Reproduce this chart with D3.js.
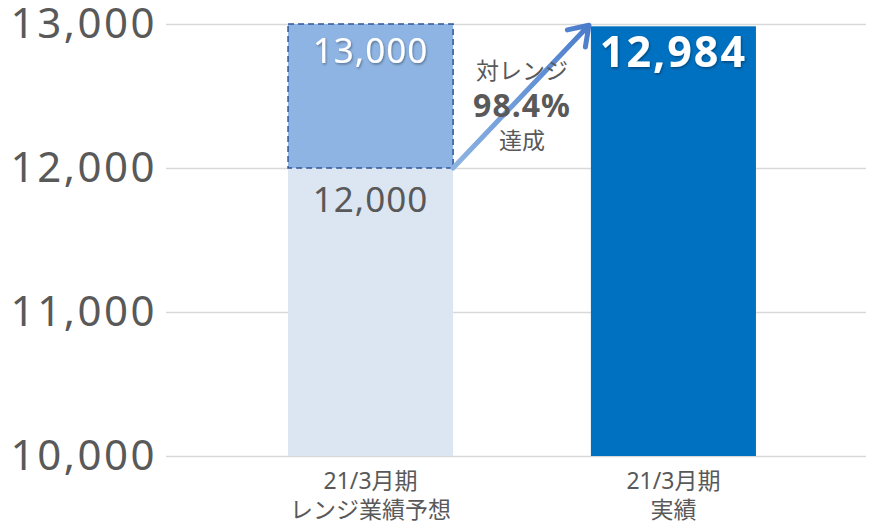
<!DOCTYPE html>
<html>
<head>
<meta charset="utf-8">
<script src="https://cdn.jsdelivr.net/npm/d3@7"></script>
<style>
  body { margin: 0; background: #fff; }
  text { font-family: "Noto Sans", "Noto Sans CJK JP", sans-serif; }
</style>
</head>
<body>
<div id="chart"></div>
<script>
// data
var categories = ["21/3月期\nレンジ業績予想", "21/3月期\n実績"];
var rangeLow = 12000;
var rangeHigh = 13000;
var actual = 12984;
var yTicks = [10000, 11000, 12000, 13000];
var noteLines = ["対レンジ", "98.4%", "達成"];

var W = 870, H = 524;
var grey = "#595959";

var svg = d3.select("#chart")
            .append("svg")
            .attr("width", W)
            .attr("height", H);

var defs = svg.append("defs");
var shadow = defs.append("filter").attr("id", "shadow")
  .attr("x", "-10%").attr("y", "-10%").attr("width", "130%").attr("height", "140%");
shadow.append("feDropShadow")
  .attr("dx", 1).attr("dy", 1.5).attr("stdDeviation", 1)
  .attr("flood-color", "#000").attr("flood-opacity", 0.35);

var grad = defs.append("linearGradient").attr("id", "arrowGrad")
  .attr("x1", "0%").attr("y1", "100%").attr("x2", "100%").attr("y2", "0%");
grad.append("stop").attr("offset", "0%").attr("stop-color", "#8EB4E3");
grad.append("stop").attr("offset", "100%").attr("stop-color", "#4A7CCB");

// scales
var y = d3.scaleLinear().domain([10000, 13000]).range([456, 24]);
var x = d3.scaleBand()
          .domain(categories)
          .range([166, 878])
          .paddingInner(0.455)
          .paddingOuter(0.403);
var bw = x.bandwidth();

// y axis: grid + labels
var yAxis = d3.axisLeft(y)
  .tickValues(yTicks)
  .tickSize(-(866 - 166))
  .tickFormat(d3.format(","))
  .tickPadding(9);

var gy = svg.append("g")
  .attr("transform", "translate(166,0)")
  .call(yAxis);
gy.select(".domain").remove();
gy.selectAll(".tick line").attr("stroke", "#D9D9D9").attr("stroke-width", 1.5);
gy.selectAll(".tick text")
  .attr("fill", grey)
  .style("font-size", "42px")
  .style("letter-spacing", "2.5px");

// forecast bar (lower part)
var c0 = categories[0], c1 = categories[1];
svg.append("rect")
  .attr("x", x(c0))
  .attr("y", y(rangeLow))
  .attr("width", bw)
  .attr("height", y(10000) - y(rangeLow))
  .attr("fill", "#DCE6F2");

// forecast range (upper part)
svg.append("rect")
  .attr("x", x(c0))
  .attr("y", y(rangeHigh))
  .attr("width", bw)
  .attr("height", y(rangeLow) - y(rangeHigh))
  .attr("fill", "#8EB4E3")
  .attr("stroke", "#2F5597")
  .attr("stroke-width", 1.5)
  .attr("stroke-dasharray", "6,4");

// actual bar
svg.append("rect")
  .attr("x", x(c1))
  .attr("y", y(actual))
  .attr("width", bw)
  .attr("height", y(10000) - y(actual))
  .attr("fill", "#0070C0");

// bar labels
svg.append("text")
  .attr("x", x(c0) + bw / 2)
  .attr("y", y(rangeHigh) + 39)
  .attr("text-anchor", "middle")
  .attr("fill", "#fff")
  .attr("filter", "url(#shadow)")
  .style("font-size", "35px")
  .style("letter-spacing", "1px")
  .text(d3.format(",")(rangeHigh));

svg.append("text")
  .attr("x", x(c0) + bw / 2)
  .attr("y", y(rangeLow) + 44)
  .attr("text-anchor", "middle")
  .attr("fill", grey)
  .style("font-size", "35px")
  .style("letter-spacing", "1px")
  .text(d3.format(",")(rangeLow));

svg.append("text")
  .attr("x", x(c1) + bw / 2)
  .attr("y", y(actual) + 41)
  .attr("text-anchor", "middle")
  .attr("fill", "#fff")
  .attr("filter", "url(#shadow)")
  .style("font-size", "43px")
  .style("font-weight", "bold")
  .style("letter-spacing", "2px")
  .text(d3.format(",")(actual));

// arrow
var x0a = x(c0) + bw, y0a = y(rangeLow);
var x1a = x(c1) - 2, y1a = y(actual) - 1;
var ang = Math.atan2(y1a - y0a, x1a - x0a);
var headLen = 22, spread = 0.6;
svg.append("path")
  .attr("d", "M" + x0a + "," + y0a + "L" + x1a + "," + y1a +
    "M" + (x1a - headLen * Math.cos(ang - spread)) + "," + (y1a - headLen * Math.sin(ang - spread)) +
    "L" + x1a + "," + y1a +
    "L" + (x1a - headLen * Math.cos(ang + spread)) + "," + (y1a - headLen * Math.sin(ang + spread)))
  .attr("fill", "none")
  .attr("stroke", "url(#arrowGrad)")
  .attr("stroke-width", 5)
  .attr("stroke-linecap", "round")
  .attr("stroke-linejoin", "round");

// annotation
var midX = (x(c0) + bw + x(c1)) / 2;
var note = svg.append("g").attr("fill", grey).attr("text-anchor", "middle");
note.append("text").attr("x", midX).attr("y", 79).style("font-size", "23px").text(noteLines[0]);
note.append("text").attr("x", midX).attr("y", 117).style("font-size", "32px").style("font-weight", "bold").style("letter-spacing", "1px").text(noteLines[1]);
note.append("text").attr("x", midX).attr("y", 149).style("font-size", "23px").text(noteLines[2]);

// x labels
categories.forEach(function(c) {
  var lines = c.split("\n");
  var t = svg.append("text")
    .attr("x", x(c) + bw / 2)
    .attr("y", 489)
    .attr("text-anchor", "middle")
    .attr("fill", grey)
    .style("font-size", "23px");
  lines.forEach(function(l, i) {
    t.append("tspan").attr("x", x(c) + bw / 2).attr("dy", i === 0 ? 0 : 29).text(l);
  });
});
</script>
</body>
</html>
